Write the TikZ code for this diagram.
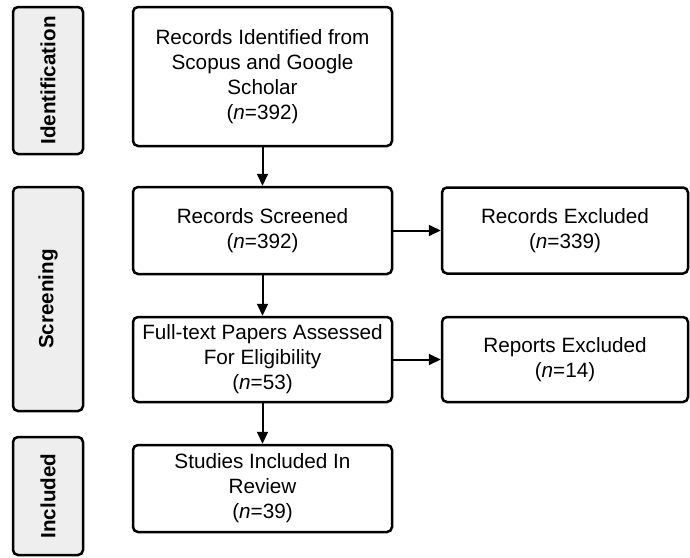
\documentclass[tikz,border=0pt]{standalone}
\usepackage{fontspec}
\setmainfont{Liberation Sans}
\usetikzlibrary{arrows.meta}
\begin{document}
\begin{tikzpicture}[x=1pt,y=-1pt,
  mainbox/.style={draw=black, line width=2.5pt, rounded corners=5pt, fill=white,
    align=center, inner sep=0pt, font=\fontsize{20.7}{25}\selectfont},
  sidebox/.style={draw=black, line width=2.5pt, rounded corners=5pt, fill=gray!13,
    inner sep=0pt, minimum width=70pt},
  sidelabel/.style={rotate=90, font=\bfseries\fontsize{20.6}{24}\selectfont},
  flow/.style={line width=2pt, -{Triangle[length=12pt,width=11pt]}}]
\useasboundingbox (0,0) rectangle (690,557);
% phase labels
\node[sidebox, minimum height=147pt] (sid) at (48,80.5) {};
\node[sidelabel] (lid) at (sid.center) {Identification};
\node[sidebox, minimum height=224pt] (ssc) at (48,299) {};
\node[sidelabel] (lsc) at (ssc.center) {Screening};
\node[sidebox, minimum height=118pt] (sin) at (48,496) {};
\node[sidelabel] (lin) at (sin.center) {Included};
% main boxes
\node[mainbox, minimum width=259pt, minimum height=139pt] (b1) at (262.5,76.5)
  {Records Identified from\\Scopus and Google\\Scholar\\(\textit{n}=392)};
\node[mainbox, minimum width=259pt, minimum height=87pt] (b2) at (262.5,230.5)
  {Records Screened\\(\textit{n}=392)};
\node[mainbox, minimum width=259pt, minimum height=85pt] (b3) at (262.5,359.5)
  {Full-text Papers Assessed\\For Eligibility\\(\textit{n}=53)};
\node[mainbox, minimum width=259pt, minimum height=87pt] (b4) at (262.5,488.5)
  {Studies Included In\\Review\\(\textit{n}=39)};
\node[mainbox, minimum width=246pt, minimum height=86pt] (re) at (565,230.5)
  {Records Excluded\\(\textit{n}=339)};
\node[mainbox, minimum width=246pt, minimum height=85pt] (rp) at (565,359.5)
  {Reports Excluded\\(\textit{n}=14)};
% connectors
\draw[flow] (b1) -- (b2);
\draw[flow] (b2) -- (b3);
\draw[flow] (b3) -- (b4);
\draw[flow] (b2) -- (re);
\draw[flow] (b3) -- (rp);
\end{tikzpicture}
\end{document}
